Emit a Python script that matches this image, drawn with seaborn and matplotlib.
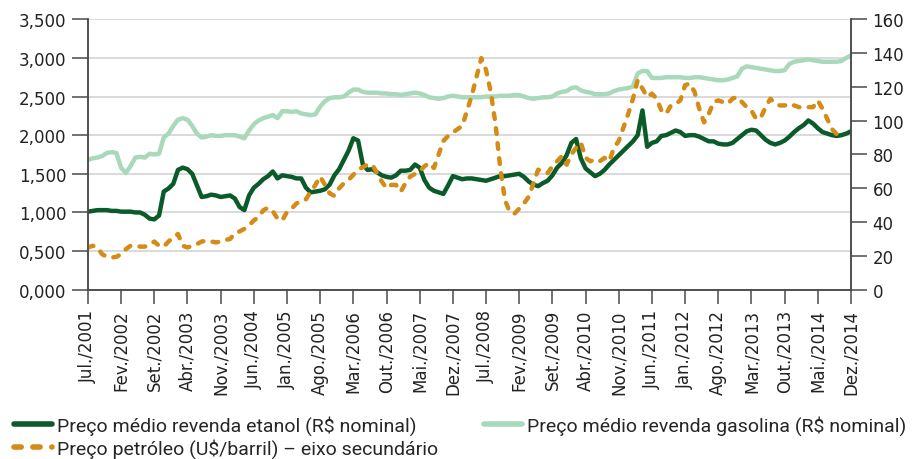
import numpy as np
import pandas as pd
import matplotlib
matplotlib.use("Agg")
import matplotlib.pyplot as plt
import seaborn as sns
from matplotlib.lines import Line2D

# ------------------------------
# Data (monthly, Jul/2001 - Dez/2014)
# ------------------------------
etanol = [
    1.01, 1.02, 1.03, 1.03, 1.03, 1.02,                                      # 2001
    1.02, 1.01, 1.01, 1.01, 1.00, 1.00, 0.97, 0.92, 0.91, 0.96, 1.27, 1.31,  # 2002
    1.37, 1.55, 1.58, 1.56, 1.50, 1.35, 1.20, 1.21, 1.23, 1.22, 1.20, 1.21,  # 2003
    1.22, 1.18, 1.07, 1.03, 1.22, 1.32, 1.37, 1.43, 1.47, 1.53, 1.44, 1.48,  # 2004
    1.47, 1.46, 1.44, 1.44, 1.32, 1.26, 1.27, 1.28, 1.30, 1.36, 1.48, 1.56,  # 2005
    1.68, 1.80, 1.96, 1.93, 1.62, 1.55, 1.56, 1.52, 1.48, 1.46, 1.45, 1.48,  # 2006
    1.54, 1.54, 1.55, 1.62, 1.58, 1.42, 1.32, 1.28, 1.26, 1.24, 1.35, 1.47,  # 2007
    1.45, 1.43, 1.44, 1.44, 1.43, 1.42, 1.41, 1.43, 1.45, 1.47, 1.47, 1.48,  # 2008
    1.49, 1.50, 1.46, 1.40, 1.36, 1.34, 1.38, 1.41, 1.48, 1.58, 1.64, 1.74,  # 2009
    1.90, 1.95, 1.70, 1.57, 1.52, 1.47, 1.50, 1.55, 1.62, 1.68, 1.74, 1.80,  # 2010
    1.86, 1.92, 2.00, 2.32, 1.85, 1.90, 1.92, 1.99, 2.00, 2.03, 2.06, 2.04,  # 2011
    1.99, 2.00, 2.00, 1.98, 1.95, 1.92, 1.92, 1.89, 1.88, 1.88, 1.90, 1.95,  # 2012
    2.00, 2.05, 2.07, 2.06, 2.00, 1.94, 1.90, 1.88, 1.90, 1.93, 1.98, 2.04,  # 2013
    2.09, 2.13, 2.19, 2.15, 2.09, 2.04, 2.02, 2.00, 1.99, 2.00, 2.02, 2.05,  # 2014
]

gasolina = [
    1.68, 1.70, 1.71, 1.73, 1.77, 1.78,
    1.77, 1.58, 1.51, 1.60, 1.71, 1.72, 1.71, 1.76, 1.75, 1.76, 1.97, 2.02,
    2.12, 2.20, 2.22, 2.20, 2.12, 2.02, 1.97, 1.98, 2.00, 1.99, 1.99, 2.00,
    2.00, 2.00, 1.98, 1.96, 2.06, 2.14, 2.19, 2.22, 2.24, 2.26, 2.22, 2.31,
    2.31, 2.30, 2.31, 2.28, 2.27, 2.26, 2.27, 2.37, 2.44, 2.48, 2.49, 2.49,
    2.50, 2.55, 2.59, 2.59, 2.56, 2.55, 2.55, 2.55, 2.54, 2.54, 2.53, 2.53,
    2.52, 2.53, 2.54, 2.55, 2.54, 2.52, 2.49, 2.48, 2.47, 2.48, 2.50, 2.51,
    2.50, 2.49, 2.49, 2.49, 2.49, 2.49, 2.50, 2.50, 2.50, 2.51, 2.51, 2.51,
    2.52, 2.52, 2.50, 2.48, 2.47, 2.48, 2.49, 2.49, 2.50, 2.54, 2.56, 2.57,
    2.61, 2.62, 2.58, 2.56, 2.55, 2.53, 2.53, 2.53, 2.54, 2.57, 2.59, 2.60,
    2.61, 2.63, 2.80, 2.83, 2.83, 2.74, 2.74, 2.74, 2.75, 2.75, 2.75, 2.75,
    2.74, 2.74, 2.75, 2.75, 2.74, 2.73, 2.72, 2.71, 2.71, 2.72, 2.74, 2.76,
    2.86, 2.89, 2.88, 2.87, 2.86, 2.85, 2.84, 2.83, 2.83, 2.84, 2.92, 2.95,
    2.96, 2.97, 2.98, 2.97, 2.96, 2.95, 2.95, 2.95, 2.95, 2.96, 3.00, 3.03,
]

petroleo = [
    25, 26, 25, 21, 19.5, 19,
    19.5, 21, 24, 26, 26, 25.5, 25.5, 26.5, 28.5, 26, 25.5, 28.5,
    31, 33, 26, 25, 26, 27, 28.5, 29, 28.5, 28, 28.5, 29.5,
    30, 33.5, 34.5, 36, 38, 41, 43, 47, 48.5, 46.5, 42, 41,
    46, 48, 51, 52.5, 53.5, 58, 62, 67, 62, 57, 55.5, 60,
    63, 65, 68, 71, 72.5, 74, 74, 69, 64, 60, 62, 62,
    58, 63, 67, 68.5, 70, 73, 75, 72, 80, 88, 91, 93,
    95, 97, 106, 115, 126, 137, 130, 117, 98, 72, 53, 46,
    45, 48, 51, 55, 63, 71, 70, 69, 73, 76, 79, 74,
    80, 84, 87, 78, 76, 77, 76, 78, 76, 84, 88, 96,
    104, 113, 124, 119, 114, 116, 113, 106, 104, 109, 110, 112,
    121, 122, 117, 107, 99, 104, 111, 112, 111, 110, 113, 114,
    111, 108, 106, 101, 102, 108, 113, 110, 109, 109, 110, 109,
    108, 108, 108, 108, 112, 107, 101, 95, 92, np.nan, np.nan, np.nan,
]

tick_labels = ["Jul./2001", "Fev./2002", "Set./2002", "Abr./2003", "Nov./2003",
               "Jun./2004", "Jan./2005", "Ago./2005", "Mar./2006", "Out./2006",
               "Mai./2007", "Dez./2007", "Jul./2008", "Fev./2009", "Set./2009",
               "Abr./2010", "Nov./2010", "Jun./2011", "Jan./2012", "Ago./2012",
               "Mar./2013", "Out./2013", "Mai./2014", "Dez./2014"]

labels = ["Preço médio revenda etanol (R$ nominal)",
          "Preço médio revenda gasolina (R$ nominal)",
          "Preço petróleo (U$/barril) – eixo secundário"]

df = pd.DataFrame({"mes": np.arange(len(etanol)), "etanol": etanol,
                   "gasolina": gasolina, "petroleo": petroleo})

# ------------------------------
# Style
# ------------------------------
sns.set_style("white")
plt.rcParams["font.family"] = ["DejaVu Sans"]

c_etanol = "#0b5b2a"
c_gasolina = "#a8d9ba"
c_petroleo = "#d48c17"
axis_col = "#4a4a4a"

fig = plt.figure(figsize=(9.16, 4.6), dpi=100)
ax = fig.add_axes([0.096, 0.368, 0.833, 0.588])
ax2 = ax.twinx()

sns.lineplot(data=df, x="mes", y="gasolina", ax=ax, color=c_gasolina, linewidth=3.2)
sns.lineplot(data=df, x="mes", y="etanol", ax=ax, color=c_etanol, linewidth=3.2)
sns.lineplot(data=df, x="mes", y="petroleo", ax=ax2, color=c_petroleo, linewidth=3.2)
oil_line = ax2.lines[-1]
oil_line.set_linestyle((0, (1.3, 2.1)))
oil_line.set_dash_capstyle("round")

# axes
ax.set_xlim(0, len(etanol) - 1)
ax.set_ylim(0, 3.5)
ax2.set_ylim(0, 160)
ax.set_xticks(np.arange(0, len(etanol), 7))
ax.set_xticklabels(tick_labels, rotation=90, fontsize=12, color="#222222")
ax.set_yticks(np.arange(0, 3.51, 0.5))
ax.set_yticklabels([f"{v:.3f}".replace(".", ",") for v in np.arange(0, 3.51, 0.5)],
                   fontsize=12, color="#222222")
ax2.set_yticks(np.arange(0, 161, 20))
ax2.set_yticklabels([str(v) for v in range(0, 161, 20)], fontsize=12, color="#222222")
ax.set_xlabel("")
ax.set_ylabel("")
ax2.set_ylabel("")

ax.grid(axis="y", color="#d0d0d0", linewidth=1.1)
ax.set_axisbelow(True)
for a in (ax, ax2):
    a.spines["top"].set_visible(False)
    for s in ("left", "right", "bottom"):
        a.spines[s].set_color(axis_col)
        a.spines[s].set_linewidth(1.1)
ax.tick_params(axis="y", length=11.5, width=1.1, color=axis_col, pad=4, direction="out", left=True)
ax.tick_params(axis="x", length=10, width=1.1, color=axis_col, pad=4, direction="out", bottom=True)
ax2.tick_params(axis="y", length=11.5, width=1.1, color=axis_col, pad=4, direction="out", right=True)

# legend
handles = [Line2D([], [], color=c_etanol, linewidth=4),
           Line2D([], [], color=c_petroleo, linewidth=4, linestyle=(0, (1.3, 2.1)),
                  dash_capstyle="round"),
           Line2D([], [], color=c_gasolina, linewidth=4)]
fig.legend(handles, [labels[0], labels[2], labels[1]], loc="lower left",
           bbox_to_anchor=(-0.004, -0.035), ncol=2, frameon=False,
           prop={"family": ["Roboto", "DejaVu Sans"], "size": 14},
           handlelength=1.95, handletextpad=0.25, columnspacing=2.4, labelspacing=0.15)

plt.savefig("out.png", dpi=100)
